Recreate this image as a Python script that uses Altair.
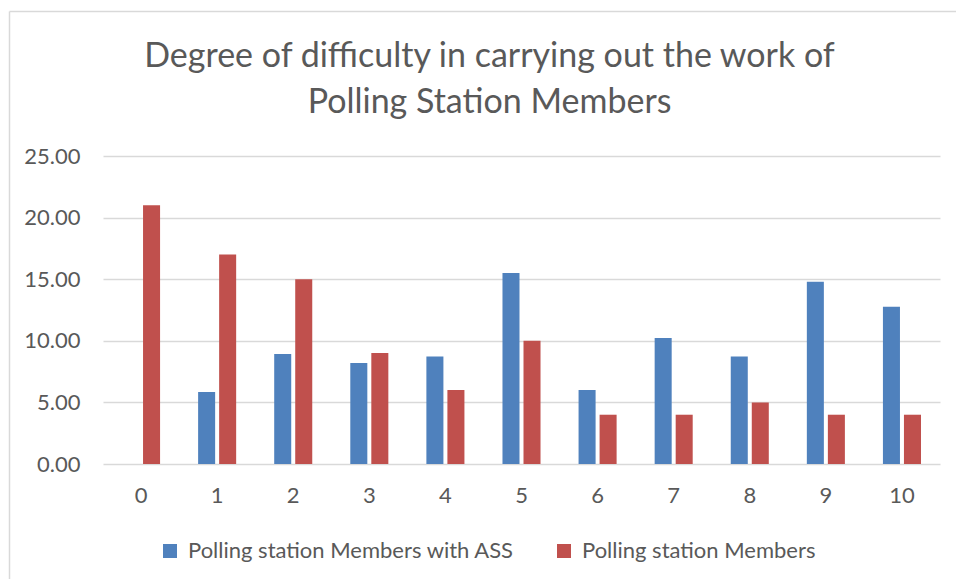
import altair as alt
import pandas as pd

# Difficulty score (0 = very easy ... 10 = very hard) and share of respondents
scores = [str(i) for i in range(11)]
with_ass = [0.0, 5.85, 8.92, 8.19, 8.73, 15.50, 6.00, 10.22, 8.73, 14.79, 12.76]
members = [21.0, 17.0, 15.0, 9.0, 6.0, 10.0, 4.0, 4.0, 5.0, 4.0, 4.0]

series_names = ["Polling station Members with ASS", "Polling station Members"]
series_colors = ["#4F81BD", "#C0504D"]

rows = []
for s, a, m in zip(scores, with_ass, members):
    rows.append({"score": s, "series": series_names[0], "value": a})
    rows.append({"score": s, "series": series_names[1], "value": m})
df = pd.DataFrame(rows)

FONT = "Lato"
GREY = "#595959"
GRID = "#D9D9D9"

bars = alt.Chart(df).mark_bar().encode(
    x=alt.X(
        "score:N",
        sort=scores,
        title=None,
        scale=alt.Scale(paddingInner=0.5, paddingOuter=0.25),
        axis=alt.Axis(
            labelAngle=0, domain=False, ticks=False, tickSize=0,
            labelPadding=21, labelFont=FONT, labelFontSize=22, labelColor=GREY,
        ),
    ),
    xOffset=alt.XOffset(
        "series:N", sort=series_names, scale=alt.Scale(paddingInner=0.19, paddingOuter=0)
    ),
    y=alt.Y(
        "value:Q",
        title=None,
        scale=alt.Scale(domain=[0, 25], nice=False),
        axis=alt.Axis(
            values=[0, 5, 10, 15, 20, 25], format=".2f", domain=False, ticks=False,
            tickSize=0, labelPadding=23, labelFont=FONT, labelFontSize=22,
            labelColor=GREY, grid=True, gridColor=GRID, gridWidth=1.3,
        ),
    ),
    color=alt.Color(
        "series:N",
        scale=alt.Scale(domain=series_names, range=series_colors),
        legend=alt.Legend(
            title=None, orient="none", legendX=56, legendY=384, direction="horizontal",
            symbolType="square", symbolSize=196, symbolStrokeWidth=0,
            labelFont=FONT, labelFontSize=22, labelColor=GREY, labelOffset=7,
            columnPadding=38, labelLimit=600,
        ),
    ),
)

# Chart-area frame: left and top edges
frame_src = pd.DataFrame({"k": [0]})
left_edge = alt.Chart(frame_src).mark_rule(color=GRID, strokeWidth=1.5).encode(
    x=alt.value(-93.5), y=alt.value(-144.5), y2=alt.value(600)
)
top_edge = alt.Chart(frame_src).mark_rule(color=GRID, strokeWidth=1.5).encode(
    x=alt.value(-93.5), x2=alt.value(900), y=alt.value(-144.5)
)

chart = (
    alt.layer(left_edge, top_edge, bars)
    .properties(
        width=837,
        height=308,
        view=alt.ViewBackground(stroke=None, strokeWidth=0),
        title=alt.TitleParams(
            text=["Degree of difficulty in carrying out the work of",
                  "Polling Station Members"],
            font=FONT, fontSize=34, fontWeight="normal", color=GREY,
            anchor="middle", frame="group", dx=-32, lineHeight=46, offset=-109,
        ),
        autosize=alt.AutoSizeParams(type="none"),
        padding={"left": 103, "top": 156, "right": 16, "bottom": 115},
    )
    .configure_view(stroke=None, strokeWidth=0)
    .configure(background="white")
)

chart.save("out.html", embed_options={"renderer": "svg", "actions": False})
